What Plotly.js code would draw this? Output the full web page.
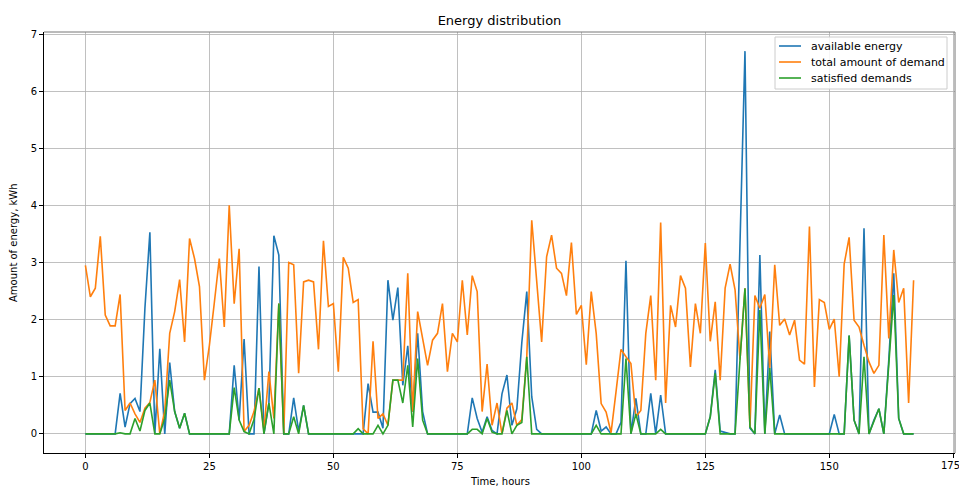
<!DOCTYPE html>
<html>
<head>
<meta charset="utf-8">
<script src="https://cdn.plot.ly/plotly-3.0.1.min.js"></script>
<style>html,body{margin:0;padding:0;background:#fff;}#chart{width:959px;height:487px;}</style>
</head>
<body>
<div id="chart"></div>
<script>
const seriesNames = ["available energy", "total amount of demand", "satisfied demands"];
const xTickVals = [0, 25, 50, 75, 100, 125, 150, 175];
const yTickVals = [0, 1, 2, 3, 4, 5, 6, 7];

const available = [
0,0,0,0,0,0,0,0.71,0.12,0.53,
0.62,0.39,2.2,3.53,0,1.49,0,1.25,0.39,0.1,
0.36,0,0,0,0,0,0,0,0,0,
1.2,0.24,1.66,0,0,2.93,0,0.54,3.47,3.13,
0,0,0.63,0.05,0.5,0,0,0,0,0,
0,0,0,0,0,0,0,0.88,0.38,0.38,
0.1,2.69,1.99,2.56,0.85,1.54,0.39,1.76,0.39,0,
0,0,0,0,0,0,0,0,0.63,0.27,
0.03,0.3,0.06,0,0.7,1.03,0.15,0.44,1.6,2.49,
0.65,0.08,0,0,0,0,0,0,0,0,
0,0,0,0.41,0.05,0.12,0,0,0.2,3.03,
0,0.62,0,0,0.71,0,0.68,0,0,0,
0,0,0,0,0,0,0.3,1.12,0.05,0.02,
0,0,3.3,6.7,0.1,0,3.13,0,1.79,0,
0.33,0,0,0,0,0,0,0,0,0,
0,0.34,0,0,1.72,0.24,0,3.6,0,0.24,
0.44,0,1.3,2.81,0.27,0,0,0
];

const demand = [
2.95,2.4,2.55,3.46,2.08,1.89,1.89,2.44,0.41,0.54,
0.35,0.2,0.45,0.55,0.94,0,0.4,1.76,2.14,2.7,
1.61,3.42,3.07,2.58,0.94,1.55,2.3,3.07,1.87,4.0,
2.28,3.24,0.04,0.15,0.39,0.8,0.05,1.09,0.27,2.28,
0,3.0,2.96,1.06,2.66,2.69,2.66,1.48,3.38,2.23,
2.28,1.09,3.09,2.9,2.3,2.35,0.09,0,1.62,0.27,
0.35,0.15,0.94,0.94,0.94,2.81,0.39,2.14,1.67,1.2,
1.64,1.76,2.28,1.09,1.76,1.61,2.69,1.73,2.77,2.49,
0.39,1.22,0.15,0.54,0,0.45,0.54,0.15,0.25,1.35,
3.74,2.6,1.61,3.1,3.48,2.9,2.81,2.42,3.35,2.09,
2.25,1.21,2.49,1.76,0.53,0.38,0.02,0.74,1.48,1.35,
1.23,0.3,0.41,1.76,2.42,0.94,3.7,0.54,2.25,1.87,
2.77,2.55,1.17,2.28,1.76,3.34,1.62,2.31,0.94,2.55,
2.97,2.52,1.3,2.55,0.12,2.42,2.2,2.44,1.15,2.96,
1.9,2.01,1.73,1.99,1.29,1.22,3.63,0.82,2.35,2.3,
1.83,2.01,1.0,2.97,3.44,1.99,1.87,1.55,1.26,1.06,
1.2,3.48,1.67,3.22,2.3,2.55,0.54,2.69
];

const satisfied = [
0,0,0,0,0,0,0,0.02,0,0,
0.27,0.05,0.41,0.54,0,0,0.27,0.94,0.39,0.1,
0.36,0,0,0,0,0,0,0,0,0,
0.81,0.24,0.04,0,0.25,0.8,0,0.54,0,2.28,
0,0,0.3,0,0.5,0,0,0,0,0,
0,0,0,0,0,0.09,0,0,0,0.15,
0,0.15,0.94,0.94,0.54,1.2,0.12,1.32,0.24,0,
0,0,0,0,0,0,0,0,0.08,0.08,
0,0.27,0.03,0,0,0.41,0,0.15,0.2,1.35,
0,0,0,0,0,0,0,0,0,0,
0,0,0,0.15,0,0,0,0,0,1.32,
0,0.35,0,0,0,0,0.08,0,0,0,
0,0,0,0,0,0,0.3,1.06,0,0,
0,0,1.3,2.55,0.12,0,2.17,0,1.15,0,
0,0,0,0,0,0,0,0,0,0,
0,0,0,0,1.72,0.24,0,1.35,0,0.21,
0.44,0,1.3,2.43,0.27,0,0,0
];

const hours = available.map((_, i) => i);
const colors = ["#1f77b4", "#ff7f0e", "#2ca02c"];
const seriesData = [available, demand, satisfied];

const traces = seriesData.map((ys, k) => ({
  x: hours, y: ys, type: "scatter", mode: "lines", name: seriesNames[k],
  line: {color: colors[k], width: 1.6}, showlegend: false
}));

const font = "DejaVu Sans, sans-serif";
const W = 959, H = 487, L = 44, R = 4, T = 32, B = 34;
const pw = W - L - R, ph = H - T - B;
const px = v => (v - L) / pw;          // pixel x -> paper x
const py = v => (H - B - v) / ph;      // pixel y -> paper y

const shapes = [
  {type: "line", xref: "paper", yref: "paper", x0: 0, x1: 1, y0: 1, y1: 1, line: {color: "#777", width: 1}},
  {type: "line", xref: "paper", yref: "paper", x0: 1, x1: 1, y0: 0, y1: 1, line: {color: "#777", width: 1}},
  {type: "rect", xref: "paper", yref: "paper", x0: px(775), x1: px(947), y0: py(89), y1: py(37),
   fillcolor: "rgba(255,255,255,0.85)", line: {color: "#cccccc", width: 1}, layer: "above"}
];
const annotations = [
  {text: "Time, hours", xref: "paper", yref: "paper", x: 0.5, y: py(474), yanchor: "top",
   xanchor: "center", showarrow: false, font: {family: font, size: 10, color: "#000"}},
  {text: "Amount of energy, kWh", xref: "paper", yref: "paper", x: px(21), y: 0.5, textangle: -90,
   xanchor: "right", yanchor: "middle", showarrow: false, font: {family: font, size: 10, color: "#000"}},
  {text: "175", xref: "x", yref: "paper", x: 175, y: py(458), yanchor: "top", xanchor: "center",
   xshift: -3, showarrow: false, font: {family: font, size: 10, color: "#000"}}
];
const rowY = [46, 62, 78];
seriesNames.forEach((name, k) => {
  shapes.push({type: "line", xref: "paper", yref: "paper", x0: px(779), x1: px(801), y0: py(rowY[k]), y1: py(rowY[k]),
               line: {color: colors[k], width: 1.6}, layer: "above"});
  annotations.push({text: name, xref: "paper", yref: "paper", x: px(809), y: py(rowY[k]), xanchor: "left",
                    yanchor: "middle", showarrow: false, font: {family: font, size: 11, color: "#000"}});
});

const layout = {
  width: W, height: H,
  margin: {l: L, r: R, t: T, b: B},
  paper_bgcolor: "#fff", plot_bgcolor: "#fff",
  font: {family: font, size: 10, color: "#000"},
  title: {text: "Energy distribution", font: {family: font, size: 13, color: "#000"},
          x: 0.5, xref: "paper", y: 1 - 20/487, yref: "container", yanchor: "middle"},
  xaxis: {range: [-8.35, 175.35], tickvals: xTickVals, ticktext: ["0","25","50","75","100","125","150",""],
          ticks: "outside", ticklen: 4, tickwidth: 1,
          tickcolor: "#000", showgrid: true, gridcolor: "#b0b0b0", gridwidth: 0.8,
          zeroline: false, showline: true, linecolor: "#000", linewidth: 1,
          tickfont: {family: font, size: 10, color: "#000"}},
  yaxis: {range: [-0.335, 7.035], tickvals: yTickVals, ticks: "outside", ticklen: 4, tickwidth: 1,
          tickcolor: "#000", showgrid: true, gridcolor: "#b0b0b0", gridwidth: 0.8,
          zeroline: false, showline: true, linecolor: "#000", linewidth: 1,
          tickfont: {family: font, size: 10, color: "#000"}},
  shapes: shapes,
  annotations: annotations,
  showlegend: false
};

Plotly.newPlot("chart", traces, layout, {displayModeBar: false, staticPlot: true});
</script>
</body>
</html>
